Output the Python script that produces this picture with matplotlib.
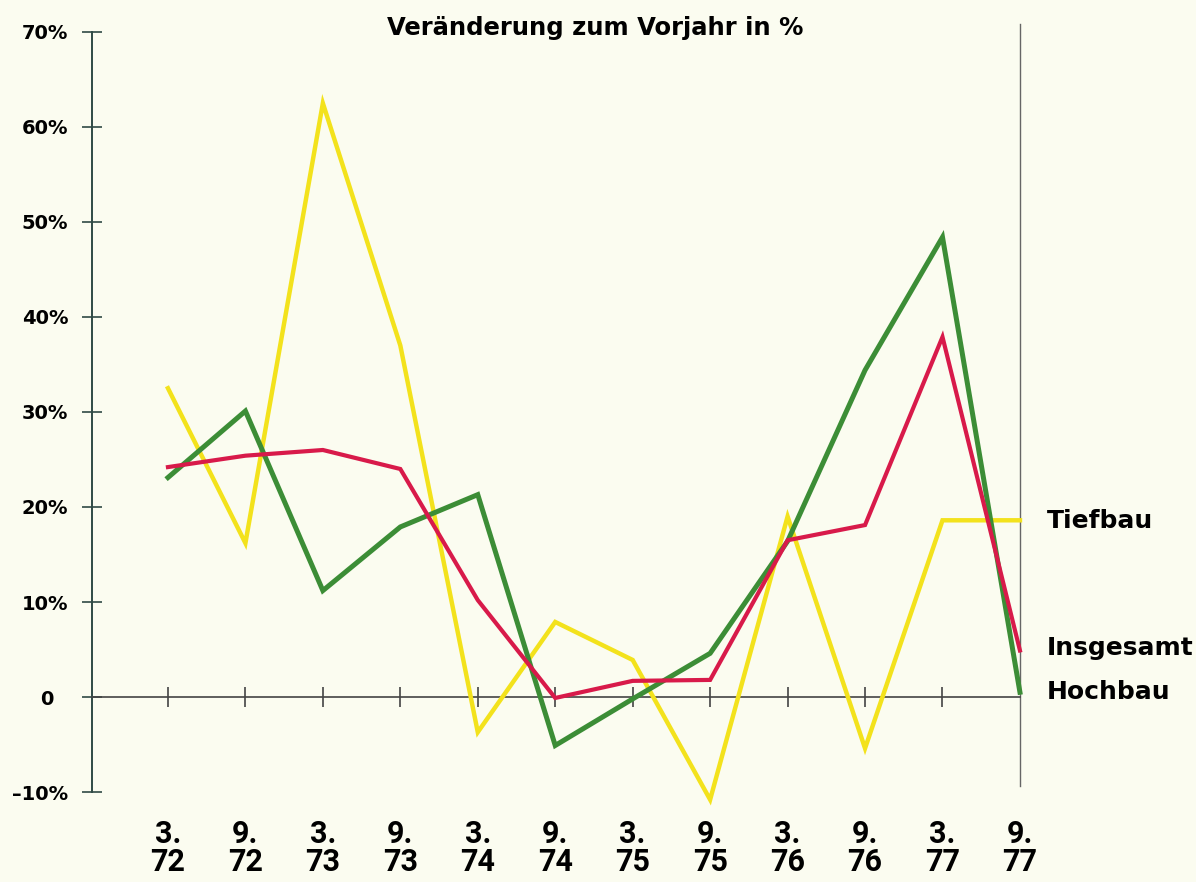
import matplotlib.pyplot as plt
import matplotlib.transforms as mtransforms

# quarters (März / September), 1972-1977
periods = ['3.\n72', '9.\n72', '3.\n73', '9.\n73', '3.\n74', '9.\n74',
           '3.\n75', '9.\n75', '3.\n76', '9.\n76', '3.\n77', '9.\n77']

# Veränderung zum Vorjahr in %
tiefbau = [32.5, 16.2, 62.5, 37.0, -3.7, 7.9, 3.9, -10.8, 19.0, -5.4, 18.6, 18.6]
hochbau = [23.1, 30.1, 11.2, 17.9, 21.3, -5.1, -0.2, 4.6, 16.4, 34.4, 48.4, 0.5]
insgesamt = [24.2, 25.4, 26.0, 24.0, 10.2, -0.1, 1.7, 1.8, 16.5, 18.1, 37.9, 4.9]

yticks = [-10, 0, 10, 20, 30, 40, 50, 60, 70]
ylabels = ['\u201310%', '0', '10%', '20%', '30%', '40%', '50%', '60%', '70%']

bg = '#fbfcf0'
yellow = '#f3e21c'
green = '#3c8d36'
red = '#d81a4a'

fig = plt.figure(figsize=(11.96, 8.82), dpi=100, facecolor=bg)
ax = fig.add_axes([0.0769, 0.102, 0.7759, 0.8618])
ax.set_facecolor(bg)

x = list(range(len(periods)))
ax.plot(x, tiefbau, color=yellow, lw=3.2, solid_joinstyle='miter', zorder=3, clip_on=False)
ax.plot(x, hochbau, color=green, lw=3.6, solid_joinstyle='miter', zorder=4, clip_on=False)
ax.plot(x, insgesamt, color=red, lw=3.0, solid_joinstyle='miter', zorder=5, clip_on=False)

ax.set_xlim(-0.981, 11)
ax.set_ylim(-10, 70)

# axes
for s in ['top', 'right']:
    ax.spines[s].set_visible(False)
ax.spines['bottom'].set_position(('data', 0))
ax.spines['bottom'].set_color('#444444')
ax.spines['bottom'].set_linewidth(1.2)
ax.spines['left'].set_color('#2f4a45')
ax.spines['left'].set_linewidth(1.4)

# right frame line
ax.plot([11, 11], [-9.4, 70.8], color='#666666', lw=1.0, clip_on=False, zorder=2)

ax.set_yticks(yticks)
ax.set_yticklabels(ylabels, fontsize=14, fontweight='bold', family='DejaVu Sans')
ax.tick_params(axis='y', direction='inout', length=14, width=1.2, color='#2f4a45', pad=10)

ax.set_xticks(x)
ax.set_xticklabels(periods, fontsize=22, fontweight='bold', family='Roboto',
                   linespacing=0.95)
ax.tick_params(axis='x', direction='inout', length=15, width=1.2, color='#444444', pad=80)
ax.xaxis.get_major_ticks()[-1].tick1line.set_visible(False)

# the "0" sits further left than the percent labels
zero_lbl = ax.yaxis.get_major_ticks()[1].label1
zero_lbl.set_transform(zero_lbl.get_transform() +
                       mtransforms.ScaledTranslation(-15 / 100, 0, fig.dpi_scale_trans))

fig.text(0.498, 0.968, 'Veränderung zum Vorjahr in %', ha='center', va='center',
         fontsize=17.5, fontweight='bold', family='DejaVu Sans')

# series labels at right
lab_kw = dict(transform=ax.transData, ha='left', va='center', fontsize=18,
              fontweight='bold', family='DejaVu Sans', clip_on=False)
ax.text(11.35, 18.5, 'Tiefbau', **lab_kw)
ax.text(11.35, 5.2, 'Insgesamt', **lab_kw)
ax.text(11.35, 0.5, 'Hochbau', **lab_kw)

fig.savefig('out.png', dpi=100, facecolor=bg)
